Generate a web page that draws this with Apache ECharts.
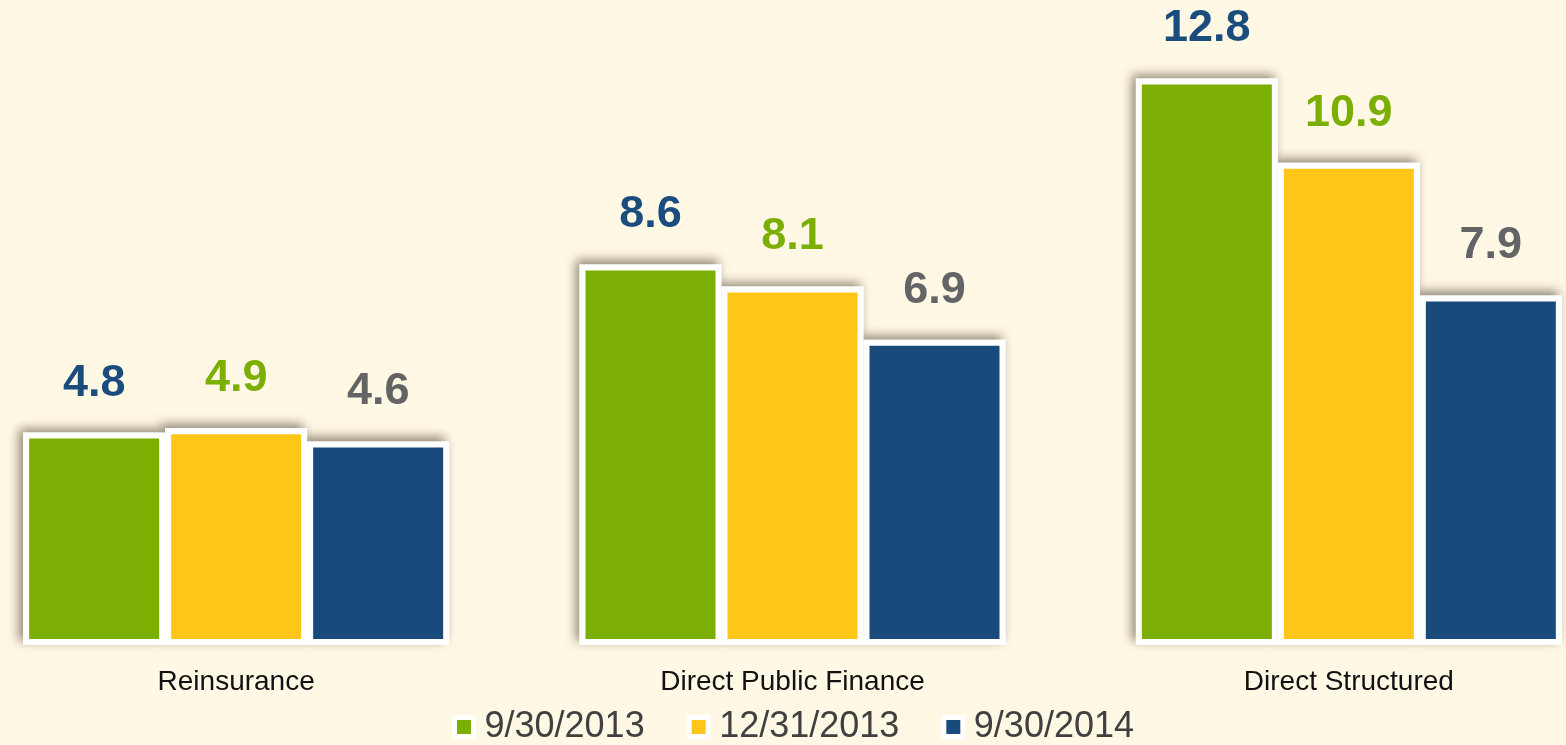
<!DOCTYPE html>
<html>
<head>
<meta charset="utf-8">
<script src="https://cdn.jsdelivr.net/npm/echarts@6/dist/echarts.min.js"></script>
<style>
html,body{margin:0;padding:0;background:#fff8e4;}
#main_chart{width:1566px;height:745px;}
</style>
</head>
<body>
<div id="main_chart"></div>
<script>
// 数据
var categories = ['Reinsurance', 'Direct Public Finance', 'Direct Structured'];
var legendNames = ['9/30/2013', '12/31/2013', '9/30/2014'];
var values_sep2013 = [4.8, 8.6, 12.8];
var values_dec2013 = [4.9, 8.1, 10.9];
var values_sep2014 = [4.6, 6.9, 7.9];
var barColors = ['#7baf04', '#fec619', '#184a7c'];
var labelColors = ['#1b4c7e', '#7baf04', '#636466'];

//阴影层（放在下面的轴上，只画阴影）
function createShadowSeries(name, data){
	return {
		name: 'shadow_' + name,
		type: 'bar',
		xAxisIndex: 0,
		data: data,
		barWidth: 142,
		barGap: '0%',
		silent: true,
		itemStyle: {
			color: '#ffffff',
			borderWidth: 0,
			shadowColor: 'rgba(70,60,45,0.6)',
			shadowBlur: 10,
			shadowOffsetX: -4,
			shadowOffsetY: -4
		},
		emphasis: {disabled: true}
	};
}

//柱形层，白边+数值
function createOneBarSeries(name, data, j){
	return {
		name: name,
		type: 'bar',
		xAxisIndex: 1,
		data: data,
		barWidth: 142,
		barGap: '0%',
		itemStyle: {
			color: barColors[j],
			borderColor: '#ffffff',
			borderWidth: 6
		},
		label: {
			show: true,
			position: 'top',
			distance: 27,
			color: labelColors[j],
			fontFamily: 'Liberation Sans, Arial, sans-serif',
			fontWeight: 'bold',
			fontSize: 45
		},
		emphasis: {disabled: true}
	};
}

var myChart = echarts.init(document.getElementById('main_chart'));

var mySeries = [];
var allValues = [values_sep2013, values_dec2013, values_sep2014];
for(var j=0;j<legendNames.length;j++){
	mySeries.push(createShadowSeries(legendNames[j], allValues[j]));
}
for(var j=0;j<legendNames.length;j++){
	mySeries.push(createOneBarSeries(legendNames[j], allValues[j], j));
}

var option = {
	backgroundColor: '#fff8e4',
	animation: false,
	legend: {
		data: legendNames,
		left: 452,
		top: 709,
		padding: 0,
		icon: 'rect',
		itemWidth: 19,
		itemHeight: 19,
		itemGap: 42,
		itemStyle: {
			borderColor: '#ffffff',
			borderWidth: 5
		},
		textStyle: {
			color: '#404040',
			fontFamily: 'Liberation Sans, Arial, sans-serif',
			fontSize: 36,
			padding: [0, 0, 0, 6]
		}
	},
	grid: {
		left: -42,
		width: 1669,
		top: 0,
		height: 645,
		containLabel: false,
		outerBoundsMode: 'none'
	},
	xAxis: [{
		type: 'category',
		data: categories,
		axisLine: {show: false},
		axisTick: {show: false},
		axisLabel: {
			color: '#111111',
			fontFamily: 'Liberation Sans, Arial, sans-serif',
			fontSize: 28,
			margin: 23
		}
	}, {
		type: 'category',
		data: categories,
		show: false
	}],
	yAxis: {
		type: 'value',
		show: false,
		min: 0,
		max: 14.576,
		splitLine: {show: false}
	},
	series: mySeries
};

myChart.setOption(option);
</script>
</body>
</html>
